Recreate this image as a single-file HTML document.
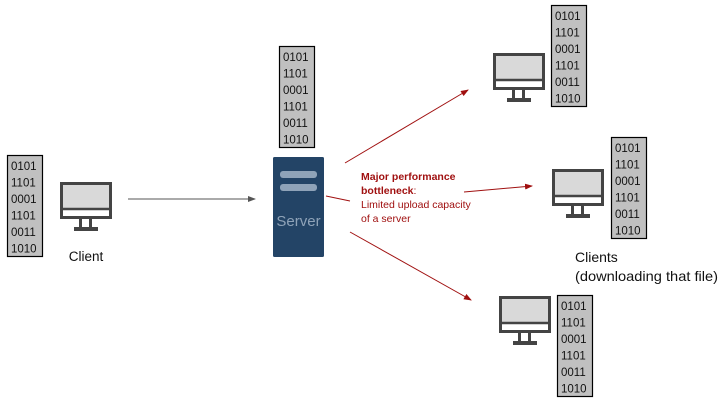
<!DOCTYPE html>
<html><head><meta charset="utf-8"><style>
body{margin:0;background:#fff;width:725px;height:408px;overflow:hidden}
svg{display:block}
text{font-family:"Liberation Sans","DejaVu Sans",sans-serif}
</style></head><body>
<svg width="725" height="408" viewBox="0 0 725 408" xmlns="http://www.w3.org/2000/svg">
<defs>
<g id="mon">
<rect x="1.5" y="1.5" width="49" height="34" fill="#d9d9d9" stroke="#444" stroke-width="3"/>
<rect x="3" y="28" width="46" height="6" fill="#fff"/>
<line x1="1.5" y1="27" x2="50.5" y2="27" stroke="#444" stroke-width="2.5"/>
<rect x="19" y="36" width="3" height="11" fill="#444"/>
<rect x="29" y="36" width="3" height="11" fill="#444"/>
<rect x="14" y="45" width="24" height="4" fill="#444"/>
</g>
<g id="blk">
<rect x="0.5" y="0.5" width="35" height="101" fill="#c0c0c0" stroke="#000" stroke-width="1.2"/>
<g font-size="11.5" fill="#111">
<text x="4" y="15">0101</text><text x="4" y="31.5">1101</text><text x="4" y="48">0001</text>
<text x="4" y="64.5">1101</text><text x="4" y="81">0011</text><text x="4" y="97.5">1010</text>
</g>
</g>
<marker id="ag" markerWidth="8" markerHeight="6" refX="7" refY="3" orient="auto" markerUnits="userSpaceOnUse"><path d="M0,0L8,3L0,6z" fill="#555"/></marker>
<marker id="ar" markerWidth="8" markerHeight="6" refX="7" refY="3" orient="auto" markerUnits="userSpaceOnUse"><path d="M0,0L8,3L0,6z" fill="#a01010"/></marker>
</defs>
<use href="#blk" x="7" y="155"/>
<use href="#mon" x="60" y="182"/>
<text x="86" y="261" font-size="13.5" text-anchor="middle" fill="#111">Client</text>
<line x1="128" y1="199" x2="255" y2="199" stroke="#555" stroke-width="1" marker-end="url(#ag)"/>
<use href="#blk" x="279" y="46"/>
<rect x="273" y="157" width="51" height="100" rx="1.5" fill="#234466"/>
<rect x="280" y="171" width="37" height="7" rx="3" fill="#8fa3b8"/>
<rect x="280" y="184" width="37" height="7" rx="3" fill="#8fa3b8"/>
<text x="298.5" y="226" font-size="15" text-anchor="middle" fill="#8fa3b8">Server</text>
<use href="#blk" x="551" y="5"/>
<use href="#mon" x="493" y="53"/>
<use href="#blk" x="611" y="137"/>
<use href="#mon" x="552" y="169"/>
<use href="#blk" x="557" y="295"/>
<use href="#mon" x="499" y="296"/>
<g stroke="#a01010" stroke-width="1" fill="none">
<line x1="345" y1="163" x2="468" y2="90" marker-end="url(#ar)"/>
<line x1="326" y1="196" x2="350" y2="201"/>
<line x1="464" y1="192" x2="532" y2="186" marker-end="url(#ar)"/>
<line x1="350" y1="232" x2="471" y2="300" marker-end="url(#ar)"/>
</g>
<g font-size="10.5" fill="#a01010">
<text x="361" y="180" font-weight="bold">Major performance</text>
<text x="361" y="194"><tspan font-weight="bold">bottleneck</tspan>:</text>
<text x="361" y="208">Limited upload capacity</text>
<text x="361" y="222">of a server</text>
</g>
<g font-size="14" fill="#111">
<text x="575" y="262">Clients</text>
<text x="575" y="281" textLength="143" lengthAdjust="spacingAndGlyphs">(downloading that file)</text>
</g>
</svg>
</body></html>
